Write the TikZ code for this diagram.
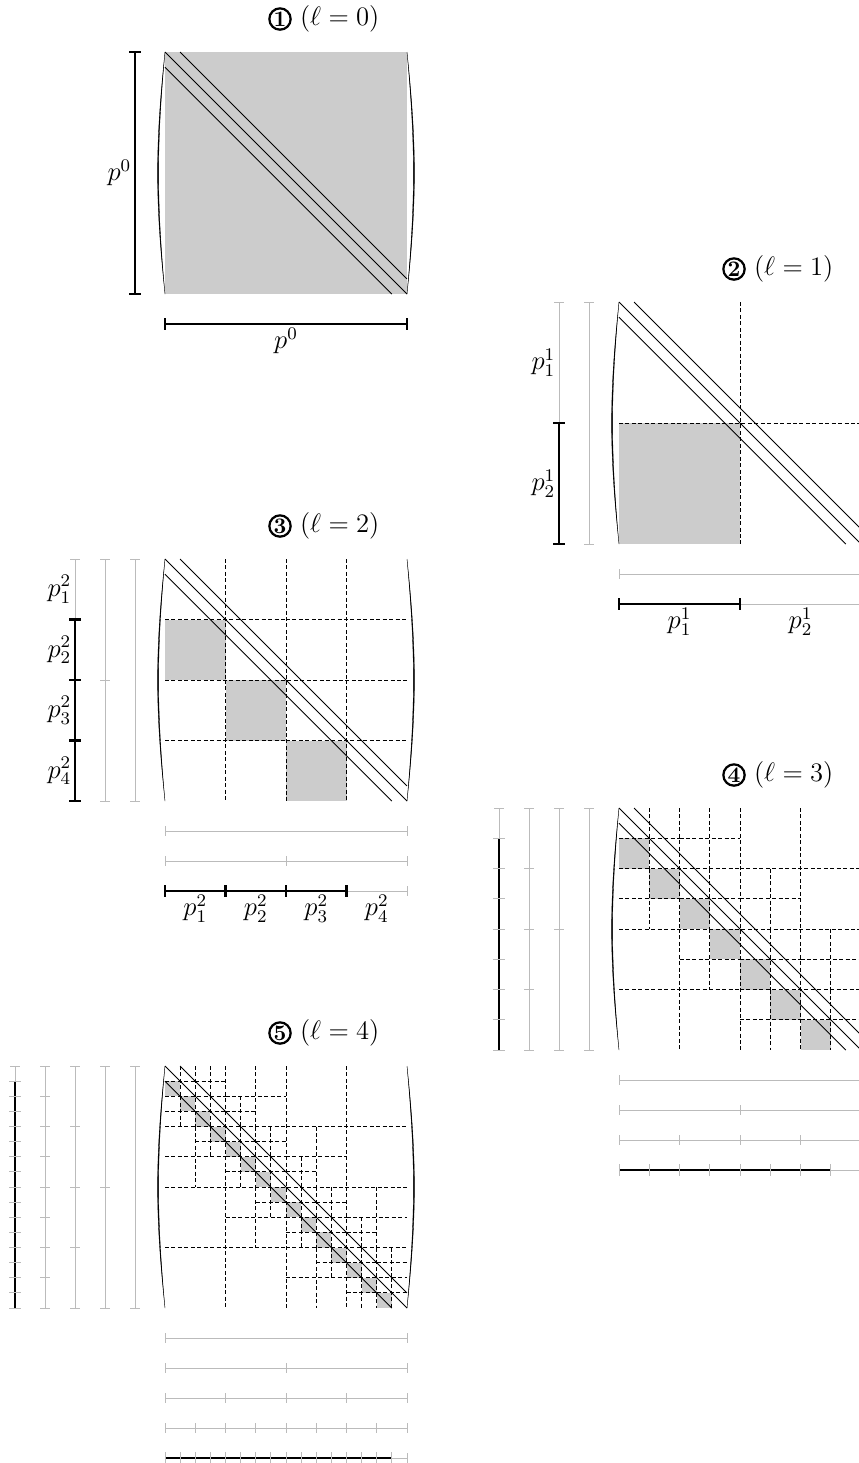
\documentclass[tikz,border=0pt,12pt]{standalone}
\usepackage{amsmath}
\usetikzlibrary{positioning}
\definecolor{blockfill}{HTML}{CCCCCC}
\definecolor{axisgray}{HTML}{BBBBBB}

\begin{document}
\begin{tikzpicture}[
  x=0.45pt, y=-0.45pt,
  every node/.style={font=\fontsize{12}{14}\selectfont},
  lowrank/.style={fill=blockfill},
  split/.style={dash pattern=on 1.8pt off 1.1pt, line width=0.4pt},
  band/.style={line width=0.4pt},
  paren/.style={fill=black, line width=0.15pt},
  axis/.style={axisgray, line width=0.45pt},
  axisbold/.style={black, line width=1.3pt},
  plabel/.style={inner sep=1.5pt},
  levelnum/.style={circle, draw, line width=1pt, inner sep=0pt,
    minimum size=9.6pt, font=\fontsize{10}{10}\selectfont\bfseries},
]
\clip (0,0) rectangle (859,1463);

\foreach \lev/\mx/\my/\num in {0/165/52/1, 1/619/302/2, 2/165/559/3, 3/619/808/4, 4/165/1066/5} {
  \pgfmathtruncatemacro{\nb}{2^\lev}
  \pgfmathsetmacro{\hb}{242/\nb}
  \coordinate (tl\num) at (\mx,\my);
  \coordinate (br\num) at (\mx+242,\my+242);

  % shaded blocks
  \ifnum\lev=0
    \fill[lowrank] (tl\num) rectangle (br\num);
  \else
    \pgfmathtruncatemacro{\nlast}{\nb-2}
    \foreach \i in {0,...,\nlast}
      \fill[lowrank] (\mx+\i*\hb,\my+\i*\hb+\hb) rectangle ++(\hb,\hb);
  \fi

  % splits of the blocks next to the diagonal
  \ifnum\lev>0
    \pgfmathtruncatemacro{\kmax}{\lev-1}
    \foreach \k in {0,...,\kmax} {
      \pgfmathtruncatemacro{\mb}{2^\k}
      \pgfmathsetmacro{\bs}{242/\mb}
      \pgfmathtruncatemacro{\mlast}{\mb-1}
      \foreach \i in {0,...,\mlast}
        \foreach \j in {0,...,\mlast} {
          \pgfmathtruncatemacro{\near}{abs(\i-\j)<=1}
          \ifnum\near=1
            \draw[split] (\mx+\j*\bs+\bs/2,\my+\i*\bs) -- ++(0,\bs);
            \draw[split] (\mx+\j*\bs,\my+\i*\bs+\bs/2) -- ++(\bs,0);
          \fi
        }
    }
  \fi

  % band
  \draw[band] (tl\num) -- (br\num);
  \draw[band] (\mx+242/16,\my) -- (\mx+242,\my+242-242/16);
  \draw[band] (\mx,\my+242/16) -- (\mx+242-242/16,\my+242);

  % brackets
  \filldraw[paren] (tl\num) to[bend right=6] (\mx,\my+242) to[bend left=5.2] (tl\num);
  \filldraw[paren] (\mx+242,\my) to[bend left=6] (br\num) to[bend right=5.2] (\mx+242,\my);

  % left axes
  \foreach \k in {0,...,\lev} {
    \pgfmathtruncatemacro{\mb}{2^\k}
    \pgfmathsetmacro{\ax}{\mx-30*(\k+1)}
    \draw[axis] (\ax,\my) -- (\ax,\my+242);
    \foreach \t in {0,...,\mb}
      \draw[axis] (\ax-5,\my+\t*242/\mb) -- ++(10,0);
  }

  % bottom axes
  \foreach \k in {0,...,\lev} {
    \pgfmathtruncatemacro{\mb}{2^\k}
    \pgfmathsetmacro{\ay}{\my+242+30*(\k+1)}
    \draw[axis] (\mx,\ay) -- (\mx+242,\ay);
    \foreach \t in {0,...,\mb}
      \draw[axis] (\mx+\t*242/\mb,\ay-5) -- ++(0,10);
  }

  % bold part of the finest axes
  \pgfmathsetmacro{\ax}{\mx-30*(\lev+1)}
  \pgfmathsetmacro{\ay}{\my+242+30*(\lev+1)}
  \pgfmathsetmacro{\offs}{\lev>0 ? \hb : 0}
  \pgfmathtruncatemacro{\tfirst}{\lev>0 ? 1 : 0}
  \pgfmathtruncatemacro{\tlast}{\lev>0 ? \nb-1 : 1}
  \draw[axisbold] (\ax,\my+\offs) -- (\ax,\my+242);
  \draw[axisbold] (\mx,\ay) -- (\mx+242-\offs,\ay);
  \ifnum\lev<3 \def\tickstyle{axisbold}\else\def\tickstyle{axis}\fi
  \foreach \t in {\tfirst,...,\nb}
    \draw[\tickstyle] (\ax-6,\my+\t*\hb) -- ++(12,0);
  \foreach \t in {0,...,\tlast}
    \draw[\tickstyle] (\mx+\t*\hb,\ay-6) -- ++(0,12);

  % labels
  \ifnum\lev=0
    \node[plabel, anchor=east] (pl\num-1) at (\ax,\my+121) {$p^{0}$};
    \node[plabel, anchor=north] (pb\num-1) at (\mx+121,\ay) {$p^{0}$};
  \fi
  \ifnum\lev>0 \ifnum\lev<3
    \foreach \i in {1,...,\nb} {
      \node[plabel, anchor=east] (pl\num-\i) at (\ax,\my+\i*\hb-\hb/2) {$p^{\lev}_{\i}$};
      \node[plabel, anchor=north] (pb\num-\i) at (\mx+\i*\hb-\hb/2,\ay) {$p^{\lev}_{\i}$};
    }
  \fi\fi

  % title
  \node[levelnum] (num\num) at (\mx+115,\my-33) {\num};
  \node[right=2.5pt of num\num, inner sep=1pt] (title\num) {$(\ell = \lev)$};
}
\end{tikzpicture}
\end{document}
